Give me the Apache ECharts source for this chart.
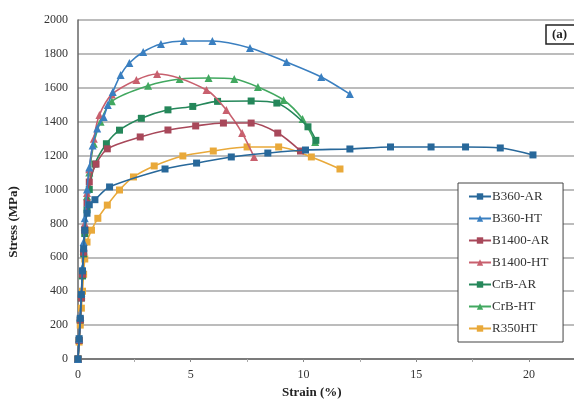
<!DOCTYPE html>
<html>
<head>
<meta charset="utf-8">
<script src="https://cdn.jsdelivr.net/npm/echarts@6/dist/echarts.min.js"></script>
<style>
  html, body { margin: 0; padding: 0; background: #fff; }
  #chart { width: 574px; height: 407px; }
</style>
</head>
<body>
<div id="chart"></div>
<script>
  // strain (%) / stress (MPa) pairs
  const b360AR = [[0, 0], [0.05, 120], [0.1, 240], [0.15, 380], [0.2, 520], [0.25, 650], [0.3, 760], [0.4, 860], [0.5, 910], [0.75, 940], [1.4, 1015], [3.86, 1121], [5.26, 1156], [6.8, 1192], [8.42, 1215], [10.09, 1233], [12.06, 1239], [13.86, 1251], [15.66, 1251], [17.19, 1251], [18.73, 1245], [20.18, 1204]];
  const b360HT = [[0, 0], [0.05, 120], [0.1, 250], [0.15, 390], [0.2, 540], [0.25, 690], [0.3, 830], [0.4, 1000], [0.5, 1130], [0.65, 1260], [0.85, 1360], [1.14, 1428], [1.32, 1499], [1.54, 1575], [1.89, 1676], [2.28, 1746], [2.89, 1811], [3.68, 1858], [4.69, 1876], [5.96, 1876], [7.63, 1835], [9.25, 1752], [10.79, 1664], [12.06, 1563]];
  const b1400AR = [[0, 0], [0.05, 110], [0.1, 230], [0.15, 360], [0.2, 500], [0.25, 630], [0.3, 760], [0.4, 920], [0.5, 1044], [0.8, 1150], [1.3, 1240], [2.76, 1310], [3.99, 1351], [5.22, 1375], [6.45, 1392], [7.68, 1392], [8.86, 1333], [9.87, 1227]];
  const b1400HT = [[0, 0], [0.05, 120], [0.1, 250], [0.15, 380], [0.2, 520], [0.25, 660], [0.3, 800], [0.4, 980], [0.5, 1120], [0.7, 1300], [0.95, 1440], [1.5, 1560], [2.59, 1646], [3.51, 1681], [5.7, 1587], [6.58, 1469], [7.28, 1333], [7.81, 1192]];
  const crbAR = [[0, 0], [0.05, 110], [0.1, 230], [0.15, 360], [0.2, 490], [0.25, 620], [0.3, 740], [0.4, 880], [0.5, 1000], [0.75, 1150], [1.26, 1270], [1.84, 1350], [2.81, 1420], [3.99, 1470], [5.09, 1490], [6.19, 1520], [7.68, 1522], [8.82, 1510], [10.2, 1370], [10.55, 1290]];
  const crbHT = [[0, 0], [0.05, 120], [0.1, 240], [0.15, 370], [0.2, 500], [0.25, 640], [0.3, 780], [0.4, 960], [0.5, 1100], [0.7, 1270], [1.0, 1400], [1.5, 1520], [3.11, 1612], [4.51, 1652], [5.79, 1658], [6.93, 1652], [7.98, 1605], [9.12, 1528], [9.96, 1416], [10.52, 1280]];
  const r350HT = [[0, 0], [0.05, 100], [0.1, 200], [0.15, 300], [0.2, 400], [0.25, 500], [0.3, 590], [0.4, 690], [0.6, 760], [0.88, 830], [1.3, 908], [1.84, 997], [2.46, 1074], [3.38, 1139], [4.65, 1198], [6.0, 1227], [7.5, 1251], [8.9, 1251], [10.35, 1192], [11.62, 1121]];

  const names = ['B360-AR', 'B360-HT', 'B1400-AR', 'B1400-HT', 'CrB-AR', 'CrB-HT', 'R350HT'];
  const colors = ['#28689a', '#3a7fc0', '#a8485a', '#c8606e', '#25875a', '#42a860', '#e9a93a'];
  const symbols = ['rect', 'triangle', 'rect', 'triangle', 'rect', 'triangle', 'rect'];
  const dataSets = [b360AR, b360HT, b1400AR, b1400HT, crbAR, crbHT, r350HT];

  const serif = '"Liberation Serif", "DejaVu Serif", serif';

  const chart = echarts.init(document.getElementById('chart'), null, { renderer: 'canvas' });

  const series = names.map(function (name, i) {
    return {
      name: name,
      type: 'line',
      data: dataSets[i],
      smooth: 0.3,
      symbol: symbols[i],
      symbolSize: symbols[i] === 'rect' ? 7 : 8,
      showAllSymbol: true,
      lineStyle: { color: colors[i], width: 1.6 },
      itemStyle: { color: colors[i] },
      emphasis: { disabled: true },
      z: 10 - i
    };
  });

  chart.setOption({
    animation: false,
    backgroundColor: '#fff',
    grid: { left: 78, top: 20, bottom: 48, right: -6 },
    title: {
      text: '(a)',
      left: 546,
      top: 25,
      padding: [3, 8, 3, 6],
      borderColor: '#222',
      borderWidth: 1.5,
      backgroundColor: '#fff',
      textStyle: { fontFamily: serif, fontSize: 13, fontWeight: 'bold', color: '#222' }
    },
    legend: {
      orient: 'vertical',
      left: 458,
      top: 183,
      width: 105,
      itemWidth: 22,
      itemHeight: 8,
      itemGap: 9,
      padding: [7, 14, 7, 10],
      backgroundColor: '#fff',
      borderColor: '#444',
      borderWidth: 1,
      data: names,
      textStyle: { fontFamily: serif, fontSize: 13, color: '#333', padding: [0, 0, 0, -4] }
    },
    xAxis: {
      type: 'value',
      min: 0,
      max: 22,
      interval: 5,
      axisLine: { show: true, onZero: false, lineStyle: { color: '#666', width: 1.5 } },
      axisTick: { show: true, length: 3, lineStyle: { color: '#888' } },
      minorTick: { show: true, splitNumber: 2, length: 3, lineStyle: { color: '#aaa' } },
      splitLine: { show: false },
      axisLabel: { showMaxLabel: false, fontFamily: serif, fontSize: 12, color: '#333', margin: 10 }
    },
    yAxis: {
      type: 'value',
      min: 0,
      max: 2000,
      interval: 200,
      axisLine: { show: true, lineStyle: { color: '#666', width: 1.5 } },
      axisTick: { show: false },
      splitLine: { show: true, lineStyle: { color: '#a6a6a6', width: 1.5 } },
      axisLabel: { formatter: function (v) { return String(v); }, fontFamily: serif, fontSize: 12, color: '#333', margin: 10 }
    },
    graphic: [
      {
        type: 'text',
        left: 282,
        top: 386,
        style: { text: 'Strain (%)', font: 'bold 13px ' + serif, fill: '#222' }
      },
      {
        type: 'text',
        x: 14,
        y: 222,
        rotation: Math.PI / 2,
        style: { text: 'Stress (MPa)', font: 'bold 13px ' + serif, fill: '#222', align: 'center', verticalAlign: 'middle' }
      }
    ],
    series: series
  });
</script>
</body>
</html>
